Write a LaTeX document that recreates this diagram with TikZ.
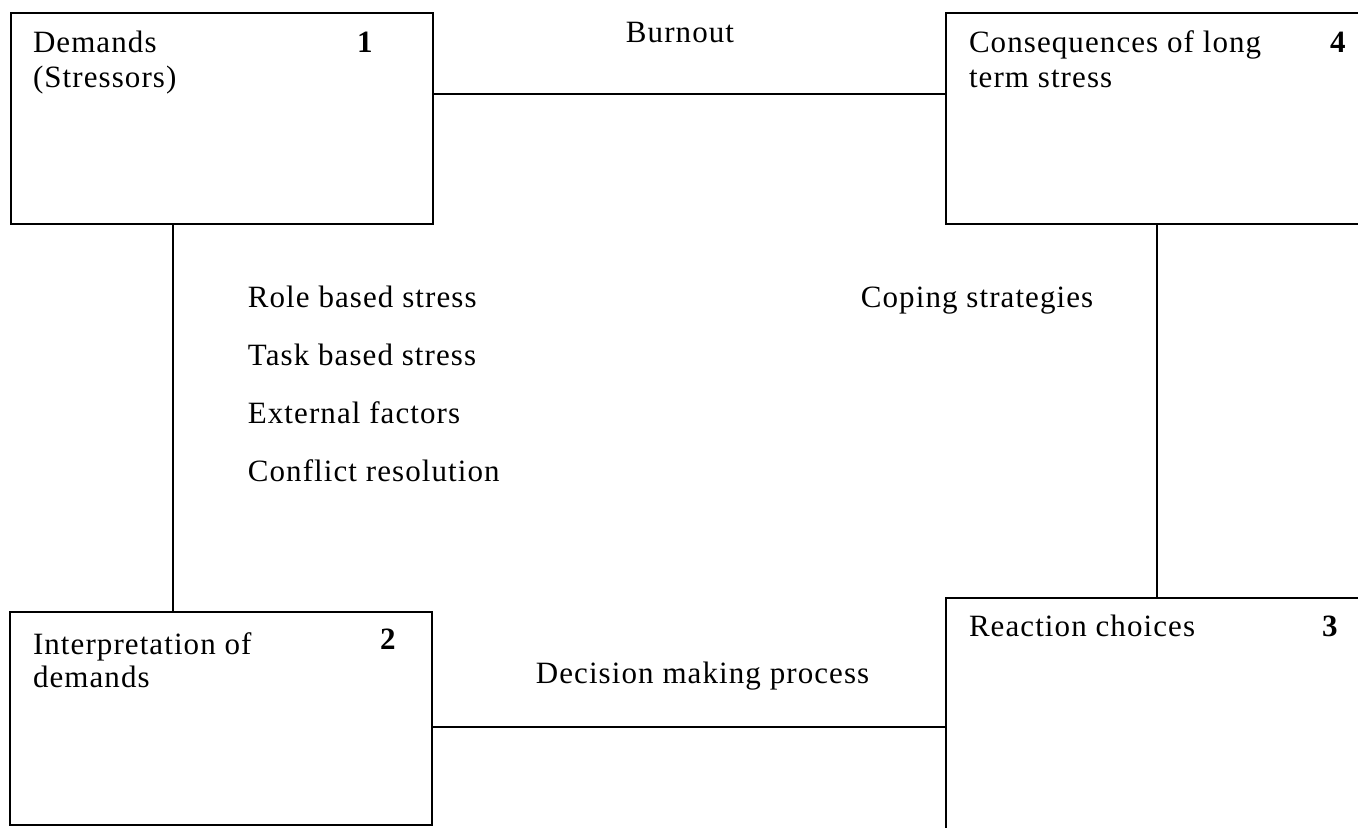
\documentclass[tikz,border=0pt]{standalone}
\usepackage{fontspec}
\setmainfont{Liberation Serif}[LetterSpace=3.5]
\usepackage{tikz}
\usetikzlibrary{positioning,calc}

\begin{document}
\begin{tikzpicture}[
x=0.5pt,y=-0.5pt,
line width=0.9pt,
stressbox/.style={
  draw,
  rectangle,
  minimum width=211pt,
  inner sep=0pt},
boxtext/.style={
  font=\fontsize{15.5}{18}\selectfont,
  anchor=base west,
  inner sep=0pt},
boxnum/.style={
  boxtext,
  font=\fontsize{15.5}{18}\selectfont\bfseries}
]
\useasboundingbox (0,0) rectangle (1358,828);
\clip (0,0) rectangle (1358,828);
% the four boxes
\node[stressbox, minimum height=105.5pt] (dem) at (222,118.5) {};
\node[stressbox, minimum height=106.5pt] (interp) at (221,718.5) {};
\node[stressbox, minimum height=122pt] (react) at (1157,720) {};
\node[stressbox, minimum height=105.5pt] (cons) at (1157,118.5) {};
% texts inside the boxes
\node[boxtext] (dem1) at ([shift={(22,40)}]dem.north west) {Demands};
\node[boxtext] (dem2) at ([yshift=-17.5pt]dem1.base west) {(Stressors)};
\node[boxnum] (num1) at ([shift={(346,40)}]dem.north west) {1};
\node[boxtext] (int1) at ([shift={(23,43)}]interp.north west) {Interpretation of};
\node[boxtext] (int2) at ([yshift=-16.5pt]int1.base west) {demands};
\node[boxnum] (num2) at ([shift={(370,38)}]interp.north west) {2};
\node[boxtext] (rea1) at ([shift={(23,39)}]react.north west) {Reaction choices};
\node[boxnum] (num3) at ([shift={(376,39)}]react.north west) {3};
\node[boxtext] (con1) at ([shift={(23,40)}]cons.north west) {Consequences of long};
\node[boxtext] (con2) at ([yshift=-17.5pt]con1.base west) {term stress};
\node[boxnum] (num4) at ([shift={(384,40)}]cons.north west) {4};
% connectors
\draw ([yshift=12.25pt]dem.east) -- ([yshift=12.25pt]dem.east -| cons.west);
\draw ([yshift=-4.25pt]interp.east) -- ([yshift=-4.25pt]interp.east -| react.west);
\draw ([xshift=-24.5pt]dem.south) -- ([xshift=-24.5pt]dem.south |- interp.north);
\draw (cons.south) -- (react.north);
% labels on the connectors
\node[boxtext, anchor=base] (burn) at (680,43) {Burnout};
\node[boxtext] (decide) at (535,683) {Decision making process};
\node[boxtext] (cope) at (860,307) {Coping strategies};
\foreach \Src [count=\i] in {Role based stress,Task based stress,External factors,Conflict resolution}
  \node[boxtext] (src\i) at (247,{307+58*(\i-1)}) {\Src};
\end{tikzpicture}
\end{document}
